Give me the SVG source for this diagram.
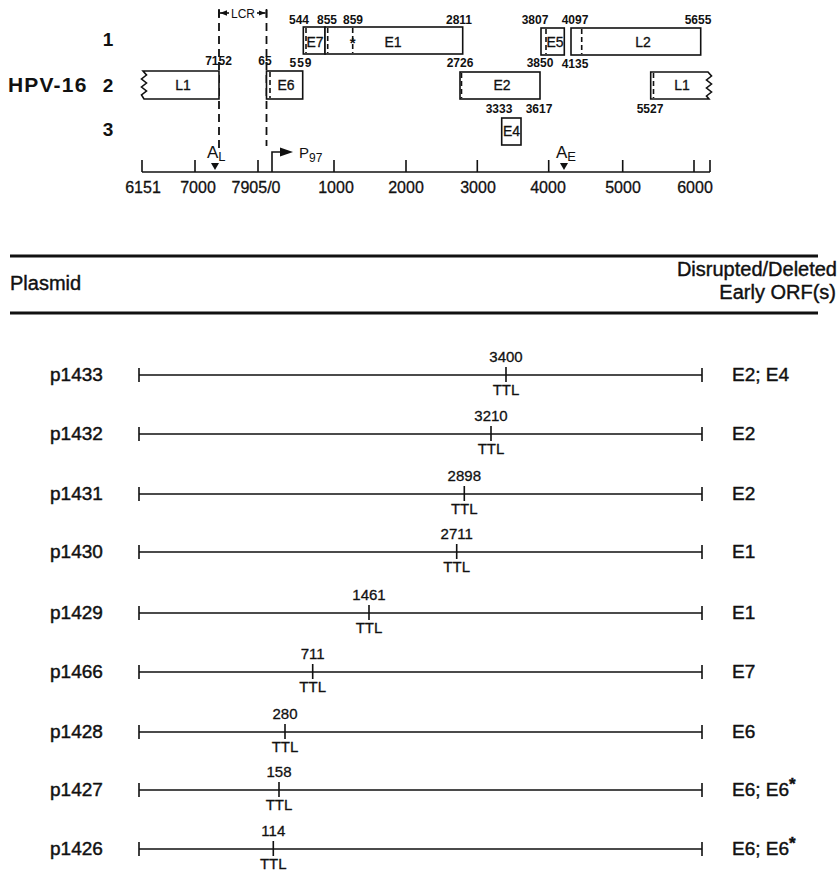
<svg xmlns="http://www.w3.org/2000/svg" width="839" height="876" viewBox="0 0 839 876">
<style>
text{font-family:"Liberation Sans",Arial,sans-serif;fill:#111}
.box{fill:#fff;stroke:#111;stroke-width:1.6}
.ln{stroke:#111;stroke-width:1.6;fill:none}
.dash{stroke:#111;stroke-width:1.6;stroke-dasharray:5,3;fill:none}
.lcr{stroke:#111;stroke-width:1.8;stroke-dasharray:8,5;fill:none}
.num{font-size:12px;font-weight:bold;text-anchor:middle}
.bl{font-size:14px;text-anchor:middle;stroke:#111;stroke-width:0.3}
.ax{font-size:16px;text-anchor:middle;stroke:#111;stroke-width:0.3}
.rown{font-size:19px;font-weight:bold;text-anchor:middle}
.pl{font-size:19px;stroke:#111;stroke-width:0.45}
.orf{font-size:19px;stroke:#111;stroke-width:0.45}
.tn{font-size:15px;text-anchor:middle;stroke:#111;stroke-width:0.3}
.hd{font-size:20px;stroke:#111;stroke-width:0.4}
.thick{stroke:#111;stroke-width:3.2}
</style>
<defs>
<marker id="ah" viewBox="0 0 10 10" refX="10" refY="5" markerWidth="7" markerHeight="7" markerUnits="userSpaceOnUse" orient="auto"><path d="M0,1 L10,5 L0,9 z" fill="#111"/></marker>
</defs>

<!-- Genome map -->
<g id="labels-left">
<text x="8" y="92" font-size="21" font-weight="bold" letter-spacing="1.2">HPV-16</text>
<text x="108" y="46" class="rown">1</text>
<text x="108" y="92" class="rown">2</text>
<text x="108" y="136" class="rown">3</text>
</g>

<g id="lcr">
<line class="lcr" x1="219" y1="10" x2="219" y2="150"/>
<line class="lcr" x1="266.5" y1="10" x2="266.5" y2="146"/>
<line class="ln" x1="219" y1="9" x2="219" y2="17"/>
<line class="ln" x1="266.5" y1="9" x2="266.5" y2="17"/>
<line class="ln" x1="229" y1="13" x2="220" y2="13" marker-end="url(#ah)"/>
<line class="ln" x1="257" y1="13" x2="265.5" y2="13" marker-end="url(#ah)"/>
<text x="243" y="17.5" font-size="12" text-anchor="middle">LCR</text>
</g>

<g id="orf-L1-left">
<path class="box" d="M219,71 L143,71 L146.5,75 L141.5,79 L146.5,83 L141.5,87 L146.5,91 L141.5,95 L144,99 L219,99 Z"/>
<text x="183" y="90" class="bl">L1</text>
<text x="218.5" y="65" class="num">7152</text>
</g>

<g id="orf-E6">
<rect class="box" x="266.5" y="71" width="36.2" height="28"/>
<line class="dash" x1="270" y1="72" x2="270" y2="98"/>
<text x="286" y="90" class="bl">E6</text>
<text x="265" y="65" class="num">65</text>
<text x="301" y="67" class="num" letter-spacing="1">559</text>
</g>

<g id="orf-E7">
<rect class="box" x="303.3" y="27" width="21.7" height="27"/>
<line class="dash" x1="306" y1="28" x2="306" y2="53"/>
<text x="315" y="47" class="bl">E7</text>
<text x="299" y="24" class="num">544</text>
</g>

<g id="orf-E1">
<rect class="box" x="325" y="27" width="137.7" height="27"/>
<line class="dash" x1="327.7" y1="28" x2="327.7" y2="53"/>
<line class="dash" x1="352.7" y1="28" x2="352.7" y2="53"/>
<text x="352.7" y="48" font-size="15" font-weight="bold" text-anchor="middle">*</text>
<text x="393" y="47" class="bl">E1</text>
<text x="327" y="24" class="num">855</text>
<text x="353" y="24" class="num">859</text>
<text x="459" y="24" class="num">2811</text>
</g>

<g id="orf-E2">
<rect class="box" x="460" y="72" width="80" height="27"/>
<line class="dash" x1="461.5" y1="73" x2="461.5" y2="98" stroke-width="2.4"/>
<text x="502" y="90" class="bl">E2</text>
<text x="460" y="67" class="num">2726</text>
<text x="540" y="67" class="num">3850</text>
</g>

<g id="orf-E4">
<rect class="box" x="501.7" y="118" width="19.3" height="27"/>
<text x="511.5" y="136" class="bl">E4</text>
<text x="499" y="113" class="num">3333</text>
<text x="539" y="113" class="num">3617</text>
</g>

<g id="orf-E5">
<rect class="box" x="541" y="28" width="23.3" height="27"/>
<line class="dash" x1="546" y1="29" x2="546" y2="54"/>
<text x="555" y="47" class="bl">E5</text>
<text x="535" y="24" class="num">3807</text>
</g>

<g id="orf-L2">
<rect class="box" x="571" y="28" width="129.7" height="27"/>
<line class="dash" x1="581.7" y1="29" x2="581.7" y2="54"/>
<text x="643" y="47" class="bl">L2</text>
<text x="575" y="24" class="num">4097</text>
<text x="698" y="24" class="num">5655</text>
<text x="575" y="68" class="num">4135</text>
</g>

<g id="orf-L1-right">
<path class="box" d="M650.7,72 L708,72 L711.5,76 L706.5,80 L711.5,84 L706.5,88 L711.5,92 L706.5,96 L709,99 L650.7,99 Z"/>
<line class="dash" x1="653.5" y1="73" x2="653.5" y2="98"/>
<text x="682" y="90" class="bl">L1</text>
<text x="650" y="113" class="num">5527</text>
</g>

<g id="axis">
<line class="ln" x1="142" y1="172" x2="710" y2="172"/>
<path class="ln" d="M142,160V172 M195,160V172 M258,160V172 M334,160V172 M406,160V172 M477.3,160V172 M548.7,160V172 M622.7,160V172 M694,160V172 M710,160V172"/>
<text x="143" y="193" class="ax">6151</text>
<text x="198" y="193" class="ax">7000</text>
<text x="256" y="193" class="ax">7905/0</text>
<text x="336" y="193" class="ax">1000</text>
<text x="406" y="193" class="ax">2000</text>
<text x="478" y="193" class="ax">3000</text>
<text x="548" y="193" class="ax">4000</text>
<text x="623" y="193" class="ax">5000</text>
<text x="695" y="193" class="ax">6000</text>
</g>

<g id="polyA-L">
<path d="M211,163 L219,163 L215,170 Z" fill="#111"/>
<text x="207" y="158" font-size="17">A<tspan font-size="13" dy="3">L</tspan></text>
</g>

<g id="polyA-E">
<path d="M560,163 L568,163 L564,170 Z" fill="#111"/>
<text x="556" y="158" font-size="17">A<tspan font-size="13" dy="3">E</tspan></text>
</g>

<g id="promoter-P97">
<path class="ln" d="M272,172 V152 H282"/>
<path d="M280,147.5 L293,152 L280,156.5 Z" fill="#111"/>
<text x="299" y="158" font-size="15">P<tspan font-size="12" dy="4">97</tspan></text>
</g>

<!-- Table header -->
<g id="header">
<line class="thick" x1="10" y1="256" x2="818" y2="256"/>
<line class="thick" x1="10" y1="313" x2="818" y2="313"/>
<text x="10" y="290" class="hd">Plasmid</text>
<text x="837" y="276" class="hd" text-anchor="end">Disrupted/Deleted</text>
<text x="836" y="299" class="hd" text-anchor="end">Early ORF(s)</text>
</g>

<g id="p1433">
<text x="50" y="381" class="pl">p1433</text>
<path class="ln" d="M139,375 H702 M139,368V382 M702,368V382 M506,367V382"/>
<text x="506" y="362" class="tn">3400</text><text x="506" y="395" class="tn">TTL</text>
<text x="732" y="381" class="orf">E2; E4</text>
</g>
<g id="p1432">
<text x="50" y="440" class="pl">p1432</text>
<path class="ln" d="M139,434 H702 M139,427V441 M702,427V441 M491,426V441"/>
<text x="491" y="421" class="tn">3210</text><text x="491" y="454" class="tn">TTL</text>
<text x="732" y="440" class="orf">E2</text>
</g>
<g id="p1431">
<text x="50" y="500" class="pl">p1431</text>
<path class="ln" d="M139,494 H702 M139,487V501 M702,487V501 M464.3,486V501"/>
<text x="464.3" y="481" class="tn">2898</text><text x="464.3" y="514" class="tn">TTL</text>
<text x="732" y="500" class="orf">E2</text>
</g>
<g id="p1430">
<text x="50" y="558" class="pl">p1430</text>
<path class="ln" d="M139,552 H702 M139,545V559 M702,545V559 M456.7,544V559"/>
<text x="456.7" y="539" class="tn">2711</text><text x="456.7" y="572" class="tn">TTL</text>
<text x="732" y="558" class="orf">E1</text>
</g>
<g id="p1429">
<text x="50" y="619" class="pl">p1429</text>
<path class="ln" d="M139,613 H702 M139,606V620 M702,606V620 M369,605V620"/>
<text x="369" y="600" class="tn">1461</text><text x="369" y="633" class="tn">TTL</text>
<text x="732" y="619" class="orf">E1</text>
</g>
<g id="p1466">
<text x="50" y="678" class="pl">p1466</text>
<path class="ln" d="M139,672 H702 M139,665V679 M702,665V679 M312.7,664V679"/>
<text x="312.7" y="659" class="tn">711</text><text x="312.7" y="692" class="tn">TTL</text>
<text x="732" y="678" class="orf">E7</text>
</g>
<g id="p1428">
<text x="50" y="738" class="pl">p1428</text>
<path class="ln" d="M139,732 H702 M139,725V739 M702,725V739 M285,724V739"/>
<text x="285" y="719" class="tn">280</text><text x="285" y="752" class="tn">TTL</text>
<text x="732" y="738" class="orf">E6</text>
</g>
<g id="p1427">
<text x="50" y="796" class="pl">p1427</text>
<path class="ln" d="M139,790 H702 M139,783V797 M702,783V797 M279,782V797"/>
<text x="279" y="777" class="tn">158</text><text x="279" y="810" class="tn">TTL</text>
<text x="732" y="796" class="orf">E6; E6<tspan font-weight="bold" font-size="17" dy="-6">*</tspan></text>
</g>
<g id="p1426">
<text x="50" y="855" class="pl">p1426</text>
<path class="ln" d="M139,849 H702 M139,842V856 M702,842V856 M273.3,841V856"/>
<text x="273.3" y="836" class="tn">114</text><text x="273.3" y="869" class="tn">TTL</text>
<text x="732" y="855" class="orf">E6; E6<tspan font-weight="bold" font-size="17" dy="-6">*</tspan></text>
</g>
</svg>
